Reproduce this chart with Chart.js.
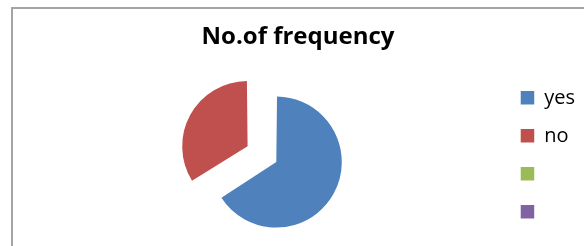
<!DOCTYPE html>
<html>
<head>
<meta charset="utf-8">
<script src="https://cdn.jsdelivr.net/npm/chart.js@4/dist/chart.umd.min.js"></script>
<style>
  html, body { margin: 0; padding: 0; background: #fff; overflow: hidden; }
  body { width: 584px; height: 246px; position: relative; }
  #frame { position: absolute; left: 11px; top: 7px; width: 700px; height: 400px;
           border-top: 2px solid #a4a4a4; border-left: 2px solid #a4a4a4; box-sizing: border-box; }
  #wrap { position: absolute; left: 0; top: 0; width: 596px; height: 260px; }
</style>
</head>
<body>
<div id="frame"></div>
<div id="wrap"><canvas id="c"></canvas></div>
<script>
const chartTitle = "No.of frequency";
const categories = ["yes", "no", "", ""];
const values = [66, 34, 0, 0];
const colors = ["#4f81bd", "#c0504d", "#9bbb59", "#8064a2"];
const sliceOffsets = [18, 113, 0, 0];

new Chart(document.getElementById("c"), {
  type: "pie",
  data: {
    labels: categories,
    datasets: [{
      data: values,
      backgroundColor: colors,
      borderWidth: 0,
      offset: sliceOffsets
    }]
  },
  options: {
    responsive: true,
    maintainAspectRatio: false,
    animation: false,
    radius: 61,
    layout: { padding: { left: 11, right: 11, top: 0, bottom: 10 } },
    plugins: {
      tooltip: { enabled: false },
      title: {
        display: true,
        text: chartTitle,
        color: "#000",
        font: { family: "'Open Sans'", size: 24, weight: "bold", lineHeight: 1.2 },
        padding: { top: 23, bottom: 18 }
      },
      subtitle: {
        display: true,
        text: " ",
        position: "left",
        fullSize: false,
        font: { size: 1, lineHeight: 1 },
        padding: { top: 30, bottom: 0 }
      },
      legend: {
        position: "right",
        align: "start",
        fullSize: false,
        labels: {
          color: "#000",
          font: { family: "'Open Sans'", size: 20 },
          boxWidth: 13.5,
          boxHeight: 13.5,
          padding: 18
        }
      }
    }
  }
});
</script>
</body>
</html>
